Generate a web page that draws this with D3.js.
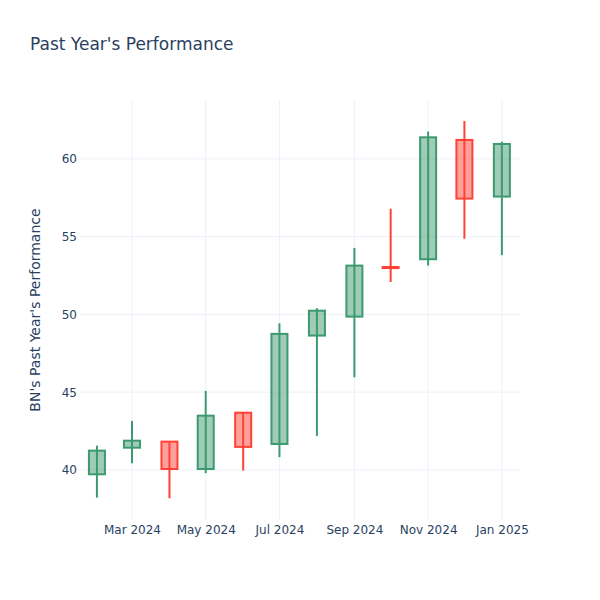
<!DOCTYPE html>
<html>
<head>
<meta charset="utf-8">
<script src="https://cdn.jsdelivr.net/npm/d3@7"></script>
<style>
  html, body { margin: 0; padding: 0; background: #fff; }
  svg { display: block; font-family: "DejaVu Sans", verdana, sans-serif; }
</style>
</head>
<body>
<svg id="chart" width="600" height="600"></svg>
<script>
// ---- data ----
const dates = ["2024-02-01","2024-03-01","2024-04-01","2024-05-01","2024-06-01","2024-07-01",
               "2024-08-01","2024-09-01","2024-10-01","2024-11-01","2024-12-01","2025-01-01"];
const opens  = [39.72, 41.43, 41.82, 40.06, 43.68, 41.67, 48.64, 49.86, 53.05, 53.55, 61.22, 57.58];
const highs  = [41.56, 43.15, 41.82, 45.08, 43.68, 49.43, 50.40, 54.28, 56.80, 61.76, 62.44, 61.11];
const lows   = [38.22, 40.43, 38.18, 39.79, 39.96, 40.82, 42.19, 45.96, 52.09, 53.14, 54.87, 53.81];
const closes = [41.24, 41.88, 40.06, 43.49, 41.48, 48.75, 50.24, 53.14, 52.98, 61.39, 57.45, 60.96];
const yTicks = [40, 45, 50, 55, 60];
const xTickDates = ["2024-03-01","2024-05-01","2024-07-01","2024-09-01","2024-11-01","2025-01-01"];
const titleText = "Past Year's Performance";
const yTitleText = "BN's Past Year's Performance";

// ---- layout ----
const W = 600, H = 600;
const margin = {left: 80, right: 80, top: 100, bottom: 80};
const parse = d3.utcParse("%Y-%m-%d");
const data = dates.map((d, i) => ({date: parse(d), open: opens[i], high: highs[i], low: lows[i], close: closes[i]}));

const svg = d3.select("#chart");
const x = d3.scaleUtc()
  .domain([parse("2024-01-18"), parse("2025-01-16")])
  .range([margin.left, W - margin.right]);
const y = d3.scaleLinear()
  .domain([36.78, 63.79])
  .range([H - margin.bottom, margin.top]);

const textColor = "#2a3f5f";
const gridColor = "#EBF0F8";
const font = '"DejaVu Sans", verdana, sans-serif';

// grid
const gx = svg.append("g");
gx.selectAll("line.vg").data(xTickDates.map(parse)).join("line")
  .attr("x1", d => x(d)).attr("x2", d => x(d))
  .attr("y1", margin.top).attr("y2", H - margin.bottom)
  .attr("stroke", gridColor).attr("stroke-width", 1);
gx.selectAll("line.hg").data(yTicks).join("line")
  .attr("x1", margin.left).attr("x2", W - margin.right)
  .attr("y1", d => y(d)).attr("y2", d => y(d))
  .attr("stroke", gridColor).attr("stroke-width", 1);

// axes (labels only)
const xAxis = d3.axisBottom(x).tickValues(xTickDates.map(parse))
  .tickFormat(d3.utcFormat("%b %Y")).tickSize(0).tickPadding(5);
const xa = svg.append("g").attr("transform", `translate(0,${H - margin.bottom})`).call(xAxis);
xa.select(".domain").remove();
xa.selectAll("text").attr("fill", textColor).style("font-size", "12px").style("font-family", font);

const yAxis = d3.axisLeft(y).tickValues(yTicks).tickSize(0).tickPadding(3);
const ya = svg.append("g").attr("transform", `translate(${margin.left},0)`).call(yAxis);
ya.select(".domain").remove();
ya.selectAll("text").attr("fill", textColor).style("font-size", "12px").style("font-family", font);

// candles
const incColor = "#3D9970", decColor = "#FF4136";
const boxW = 16;
const cg = svg.append("g");
data.forEach(d => {
  const up = d.close >= d.open;
  const col = up ? incColor : decColor;
  const cx = x(d.date);
  const g = cg.append("g");
  g.append("line")
    .attr("x1", cx).attr("x2", cx)
    .attr("y1", y(d.high)).attr("y2", y(d.low))
    .attr("stroke", col).attr("stroke-width", 2);
  const top = y(Math.max(d.open, d.close));
  const bot = y(Math.min(d.open, d.close));
  g.append("rect")
    .attr("x", cx - boxW / 2).attr("width", boxW)
    .attr("y", top).attr("height", Math.max(0, bot - top))
    .attr("fill", col).attr("fill-opacity", 0.5)
    .attr("stroke", col).attr("stroke-width", 2);
});

// title
svg.append("text").attr("x", 30).attr("y", 50)
  .attr("fill", textColor).style("font-size", "17px").style("font-family", font)
  .text(titleText);

// y title
svg.append("text")
  .attr("transform", `translate(40,${(margin.top + H - margin.bottom) / 2}) rotate(-90)`)
  .attr("text-anchor", "middle")
  .attr("fill", textColor).style("font-size", "14px").style("font-family", font)
  .text(yTitleText);
</script>
</body>
</html>
